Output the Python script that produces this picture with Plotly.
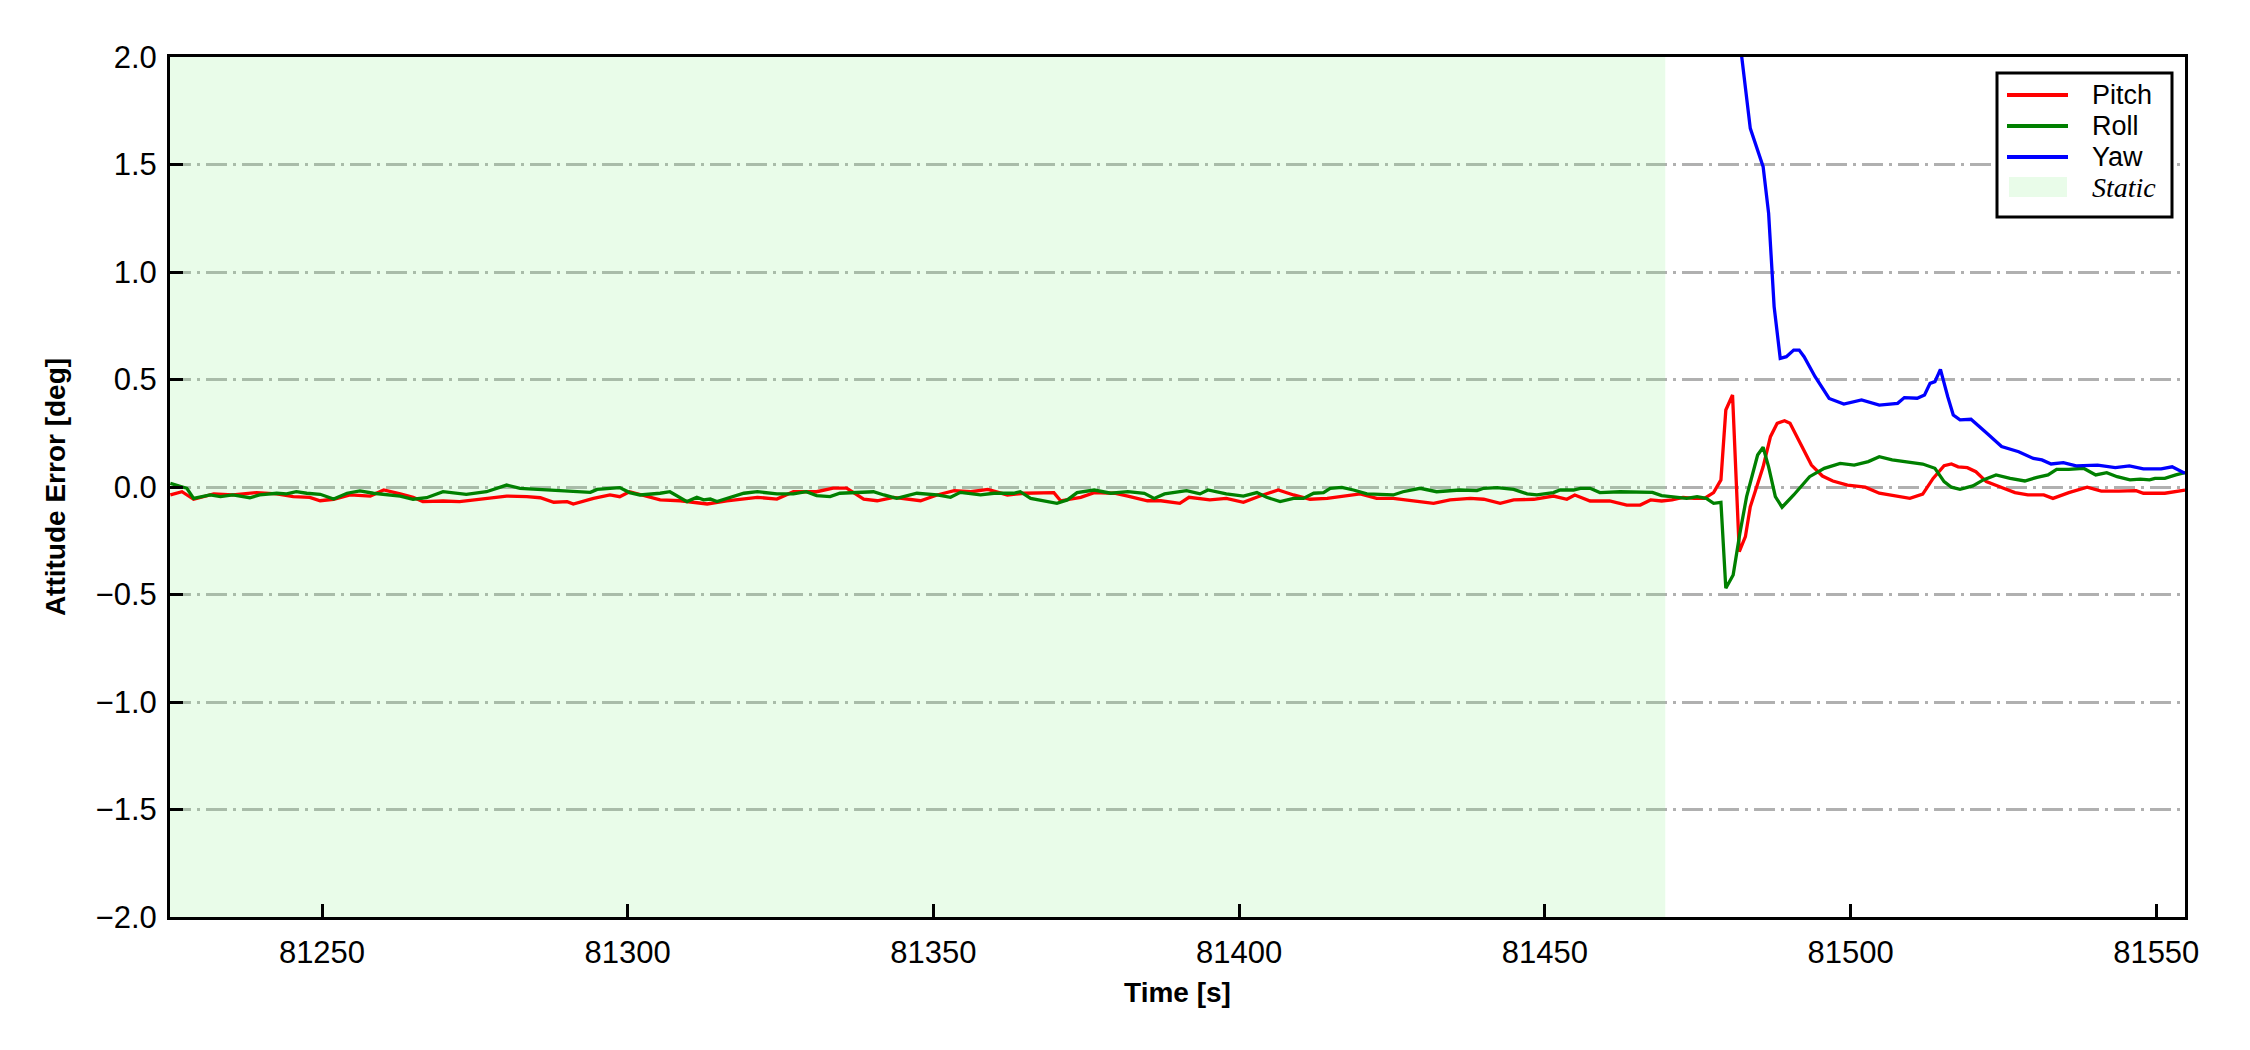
import plotly.graph_objects as go

# ---------------- data ----------------
pitch_t = [81225.2, 81227.1, 81229.0, 81232.3, 81235.4, 81239.3, 81242.6, 81245.3, 81248.0, 81249.7,
           81251.9, 81254.6, 81257.9, 81260.1, 81262.8, 81264.9, 81266.5, 81269.8, 81272.5, 81275.8,
           81280.2, 81283.5, 81285.7, 81287.9, 81290.1, 81291.1, 81294.4, 81297.1, 81298.7, 81300.3,
           81302.5, 81305.3, 81308.6, 81313.0, 81316.2, 81319.0, 81321.2, 81324.4, 81327.1, 81330.9,
           81333.6, 81335.8, 81338.6, 81340.8, 81343.5, 81347.9, 81350.6, 81353.4, 81356.1, 81358.9,
           81362.1, 81364.8, 81369.7, 81370.8, 81374.1, 81376.3, 81379.6, 81381.8, 81385.0, 81387.2,
           81390.3, 81391.8, 81395.2, 81397.9, 81400.7, 81403.4, 81406.4, 81408.9, 81411.6, 81414.4,
           81417.6, 81419.8, 81422.5, 81425.2, 81428.5, 81431.8, 81434.5, 81437.8, 81440.0, 81442.7,
           81444.9, 81448.2, 81451.4, 81453.6, 81454.9, 81457.4, 81460.6, 81463.4, 81465.6, 81467.3,
           81469.1, 81470.8, 81472.6, 81474.4, 81476.1, 81477.6, 81478.8, 81479.6, 81480.7, 81481.8,
           81482.8, 81483.6, 81485.7, 81486.9, 81488.0, 81489.2, 81490.1, 81491.8, 81493.6, 81495.4,
           81497.1, 81499.5, 81502.4, 81504.7, 81507.1, 81509.7, 81511.8, 81513.5, 81515.3, 81516.5,
           81517.6, 81519.1, 81520.5, 81522.2, 81524.6, 81526.9, 81529.0, 81531.6, 81533.1, 81535.7,
           81538.7, 81541.0, 81543.9, 81546.7, 81547.9, 81551.4, 81554.7]
pitch_v = [-0.037, -0.022, -0.057, -0.032, -0.037, -0.026, -0.032, -0.045, -0.048, -0.064,
           -0.057, -0.037, -0.042, -0.014, -0.032, -0.048, -0.068, -0.065, -0.068, -0.057,
           -0.042, -0.045, -0.050, -0.071, -0.068, -0.079, -0.053, -0.037, -0.045, -0.022,
           -0.037, -0.060, -0.064, -0.079, -0.064, -0.056, -0.048, -0.056, -0.022, -0.022,
           -0.005, -0.005, -0.056, -0.064, -0.048, -0.064, -0.037, -0.017, -0.022, -0.011,
           -0.037, -0.029, -0.026, -0.064, -0.048, -0.026, -0.029, -0.042, -0.064, -0.064,
           -0.076, -0.048, -0.060, -0.053, -0.071, -0.042, -0.014, -0.037, -0.057, -0.053,
           -0.042, -0.032, -0.053, -0.053, -0.065, -0.076, -0.060, -0.053, -0.057, -0.076,
           -0.060, -0.057, -0.042, -0.057, -0.037, -0.065, -0.065, -0.084, -0.084, -0.060,
           -0.065, -0.060, -0.048, -0.053, -0.053, -0.026, 0.033, 0.358, 0.428, -0.301,
           -0.231, -0.092, 0.094, 0.234, 0.296, 0.308, 0.296, 0.203, 0.102, 0.051,
           0.028, 0.009, -0.001, -0.029, -0.042, -0.053, -0.033, 0.040, 0.099, 0.107,
           0.094, 0.090, 0.071, 0.025, -0.001, -0.026, -0.037, -0.037, -0.053, -0.026,
           -0.001, -0.019, -0.019, -0.017, -0.029, -0.029, -0.014]

roll_t = [81225.2, 81227.9, 81229.0, 81231.7, 81233.4, 81235.4, 81238.2, 81239.8, 81242.6, 81244.2,
          81245.8, 81247.5, 81249.7, 81251.9, 81254.1, 81256.2, 81258.4, 81260.6, 81262.8, 81264.9,
          81267.1, 81269.8, 81273.6, 81276.9, 81280.2, 81282.4, 81285.1, 81287.9, 81291.1, 81293.9,
          81295.0, 81298.7, 81300.3, 81302.0, 81305.3, 81306.9, 81309.7, 81311.3, 81312.4, 81313.5,
          81314.6, 81319.0, 81321.2, 81324.4, 81327.1, 81329.2, 81330.9, 81333.1, 81334.7, 81338.0,
          81340.2, 81341.9, 81344.0, 81347.3, 81350.6, 81352.8, 81354.4, 81357.7, 81359.9, 81363.1,
          81364.2, 81365.9, 81368.6, 81370.2, 81371.9, 81373.5, 81376.3, 81379.0, 81381.8, 81384.5,
          81386.1, 81387.8, 81390.3, 81391.4, 81393.6, 81394.9, 81397.9, 81400.7, 81402.9, 81404.5,
          81406.7, 81408.9, 81410.5, 81412.2, 81413.8, 81414.9, 81416.8, 81418.7, 81420.9, 81425.2,
          81426.8, 81429.6, 81432.3, 81436.1, 81438.9, 81440.0, 81442.2, 81444.9, 81447.1, 81448.7,
          81451.4, 81452.5, 81454.7, 81455.8, 81457.4, 81459.0, 81462.3, 81464.5, 81465.6, 81467.6,
          81469.1, 81471.4, 81473.2, 81474.9, 81476.4, 81477.6, 81478.8, 81479.6, 81480.8, 81481.9,
          81483.0, 81484.8, 81485.7, 81486.6, 81487.7, 81488.8, 81490.7, 81493.3, 81495.7, 81498.3,
          81500.6, 81502.9, 81504.7, 81506.8, 81509.4, 81511.8, 81513.8, 81515.3, 81516.5, 81517.9,
          81520.0, 81521.7, 81523.8, 81526.1, 81528.5, 81530.5, 81532.3, 81533.7, 81535.7, 81538.1,
          81540.1, 81541.9, 81543.6, 81545.7, 81547.4, 81548.9, 81549.8, 81551.4, 81553.2, 81554.7]
roll_v = [0.017, -0.006, -0.053, -0.037, -0.045, -0.037, -0.050, -0.037, -0.029, -0.032,
          -0.022, -0.029, -0.034, -0.056, -0.029, -0.018, -0.029, -0.037, -0.042, -0.057,
          -0.050, -0.022, -0.034, -0.022, 0.009, -0.006, -0.011, -0.014, -0.022, -0.025,
          -0.011, -0.003, -0.026, -0.037, -0.029, -0.022, -0.068, -0.048, -0.060, -0.056,
          -0.068, -0.029, -0.022, -0.032, -0.032, -0.022, -0.040, -0.045, -0.029, -0.026,
          -0.022, -0.037, -0.053, -0.029, -0.037, -0.048, -0.025, -0.037, -0.029, -0.029,
          -0.022, -0.053, -0.068, -0.076, -0.060, -0.026, -0.014, -0.029, -0.022, -0.029,
          -0.053, -0.032, -0.022, -0.017, -0.032, -0.014, -0.032, -0.042, -0.026, -0.048,
          -0.068, -0.053, -0.053, -0.029, -0.026, -0.006, -0.002, -0.014, -0.032, -0.037,
          -0.022, -0.006, -0.022, -0.014, -0.017, -0.006, -0.003, -0.011, -0.032, -0.037,
          -0.026, -0.014, -0.014, -0.006, -0.006, -0.026, -0.022, -0.022, -0.025, -0.025,
          -0.040, -0.048, -0.053, -0.045, -0.053, -0.076, -0.071, -0.471, -0.409, -0.215,
          -0.045, 0.149, 0.185, 0.094, -0.045, -0.094, -0.037, 0.048, 0.087, 0.110,
          0.102, 0.118, 0.141, 0.126, 0.118, 0.107, 0.087, 0.025, -0.001, -0.011,
          0.005, 0.033, 0.056, 0.040, 0.028, 0.045, 0.056, 0.082, 0.082, 0.087,
          0.056, 0.067, 0.048, 0.033, 0.037, 0.033, 0.040, 0.040, 0.056, 0.067]

yaw_t = [81478.0, 81482.3, 81483.6, 81485.7, 81486.6, 81487.5, 81488.5, 81489.5, 81490.7, 81491.6,
         81492.4, 81494.2, 81496.5, 81498.9, 81501.8, 81504.7, 81507.7, 81508.8, 81510.9, 81512.1,
         81513.0, 81513.8, 81514.7, 81515.9, 81516.8, 81517.9, 81519.7, 81522.3, 81524.7, 81527.5,
         81529.9, 81531.3, 81532.8, 81534.8, 81536.9, 81540.4, 81543.3, 81545.6, 81547.9, 81550.8,
         81552.6, 81554.7]
yaw_v = [3.0, 2.0, 1.668, 1.49, 1.273, 0.839, 0.598, 0.606, 0.637, 0.637,
         0.606, 0.513, 0.412, 0.386, 0.405, 0.381, 0.389, 0.416, 0.413, 0.428,
         0.482, 0.490, 0.547, 0.420, 0.335, 0.312, 0.315, 0.250, 0.188, 0.164,
         0.133, 0.126, 0.107, 0.113, 0.098, 0.102, 0.090, 0.098, 0.084, 0.084,
         0.094, 0.064]

static_start = 81220.0
static_end = 81469.7
x_range = [81225.14, 81554.7]
y_range = [-2.0, 2.0]
y_ticks = [-2.0, -1.5, -1.0, -0.5, 0.0, 0.5, 1.0, 1.5, 2.0]
x_ticks = [81250, 81300, 81350, 81400, 81450, 81500, 81550]

series_names = ["Pitch", "Roll", "Yaw"]
series_colors = ["#ff0000", "#008000", "#0000ff"]
static_name = "Static"
static_fill = "rgba(144,238,144,0.2)"

FONT = "Liberation Sans, Arial, sans-serif"
W, H = 2250, 1050
ML, MR, MT, MB = 170, 65, 57, 133
PW, PH = W - ML - MR, H - MT - MB


def px(X):  # page pixel -> plot-domain fraction (x)
    return (X - ML) / PW


def py(Y):  # page pixel -> plot-domain fraction (y)
    return (H - MB - Y) / PH


fig = go.Figure()

fig.add_trace(go.Scatter(
    x=[static_start, static_end, static_end, static_start, static_start],
    y=[-3, -3, 3, 3, -3],
    fill="toself", fillcolor=static_fill,
    mode="lines", line=dict(width=0, color=static_fill),
    name=static_name, showlegend=False, hoverinfo="skip"))

for name, color, t, v in zip(series_names, series_colors,
                             [pitch_t, roll_t, yaw_t], [pitch_v, roll_v, yaw_v]):
    fig.add_trace(go.Scatter(x=t, y=v, mode="lines", name=name,
                             line=dict(color=color, width=3.3), showlegend=False))

# ---- legend box (drawn in axis-domain coordinates) ----
shapes = [dict(type="rect", xref="x domain", yref="y domain",
               x0=px(1997), x1=px(2172), y0=py(217), y1=py(73),
               line=dict(color="black", width=3), fillcolor="white", layer="above")]
annotations = []
row_y = [95, 126, 157, 187]
for i, (name, color) in enumerate(zip(series_names, series_colors)):
    shapes.append(dict(type="line", xref="x domain", yref="y domain",
                       x0=px(2007), x1=px(2068), y0=py(row_y[i]), y1=py(row_y[i]),
                       line=dict(color=color, width=4), layer="above"))
    annotations.append(dict(xref="x domain", yref="y domain", x=px(2090), y=py(row_y[i]),
                            xanchor="left", yanchor="middle", showarrow=False, text=name,
                            font=dict(family=FONT, size=27, color="black")))
shapes.append(dict(type="rect", xref="x domain", yref="y domain",
                   x0=px(2009), x1=px(2067), y0=py(197), y1=py(177),
                   line=dict(width=0), fillcolor=static_fill, layer="above"))
annotations.append(dict(xref="x domain", yref="y domain", x=px(2090), y=py(row_y[3]),
                        xanchor="left", yanchor="middle", showarrow=False,
                        text="<i>" + static_name + "</i>",
                        font=dict(family="Liberation Serif, Times New Roman, serif", size=28, color="black")))

fig.update_layout(
    width=W, height=H,
    margin=dict(l=ML, r=MR, t=MT, b=MB),
    paper_bgcolor="white", plot_bgcolor="white",
    font=dict(family=FONT, color="black", size=31),
    showlegend=False,
    shapes=shapes, annotations=annotations,
)

fig.update_xaxes(
    range=x_range, tickvals=x_ticks, ticktext=[str(v) for v in x_ticks],
    showgrid=False, zeroline=False,
    showline=True, linecolor="black", linewidth=3, mirror=True,
    ticks="inside", ticklen=13, tickwidth=3, tickcolor="black",
    tickfont=dict(family=FONT, size=31, color="black"),
    ticklabelstandoff=6,
    title=dict(text="<b>Time [s]</b>", font=dict(family=FONT, size=28, color="black"), standoff=14),
)
fig.update_yaxes(
    range=y_range, tickvals=y_ticks, tickformat=".1f",
    showgrid=True, gridcolor="#b0b0b0", gridwidth=2.5, griddash="21px,6px,3px,6px",
    zeroline=False,
    showline=True, linecolor="black", linewidth=3, mirror=True,
    ticks="inside", ticklen=13, tickwidth=3, tickcolor="black",
    tickfont=dict(family=FONT, size=31, color="black"),
    ticklabelstandoff=4,
    title=dict(text="<b>Attitude Error [deg]</b>", font=dict(family=FONT, size=28, color="black"), standoff=22),
)

fig.write_html("out.html", config={"displayModeBar": False},
               post_script="document.body.style.margin='0';")
